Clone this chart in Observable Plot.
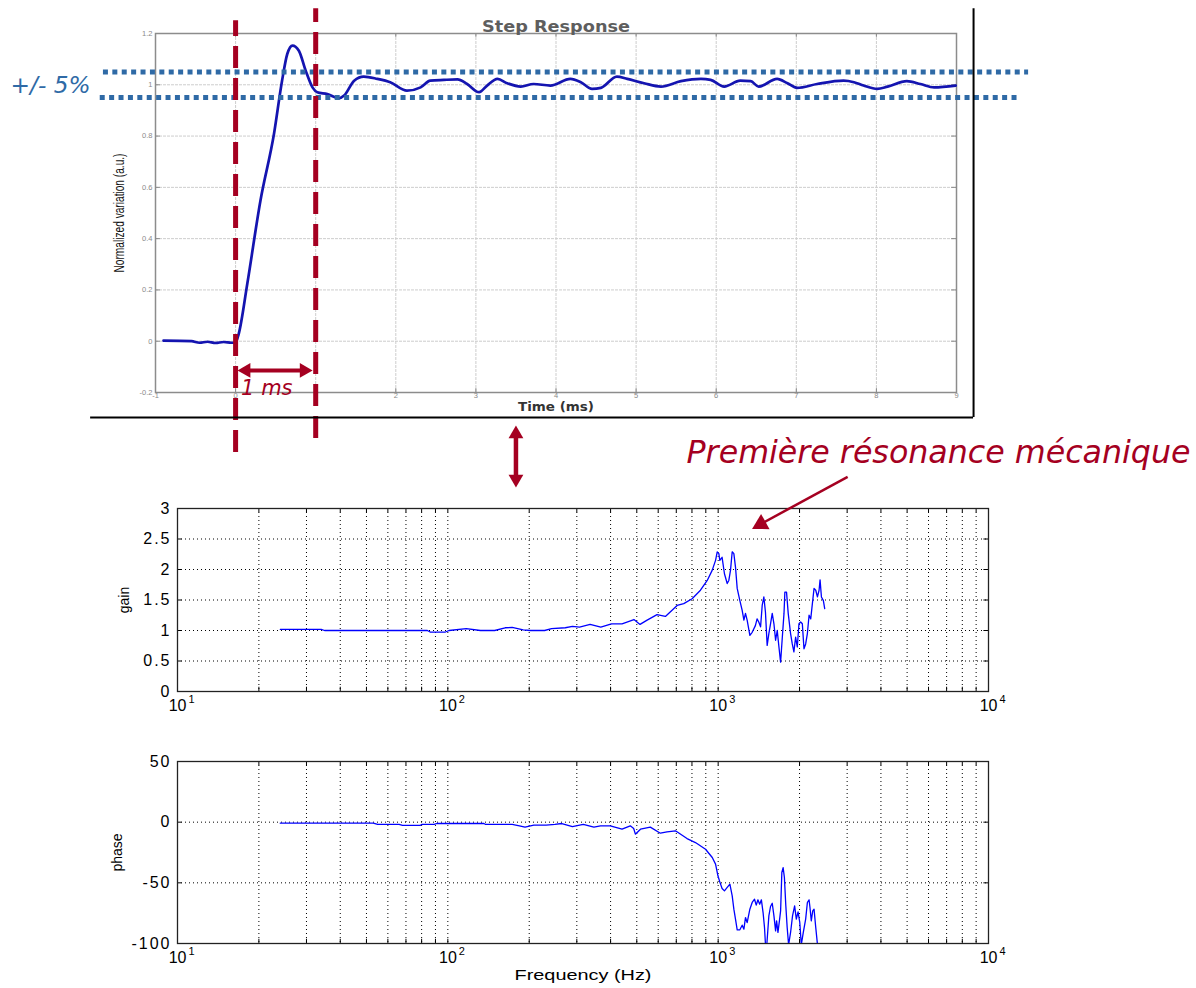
<!DOCTYPE html>
<html>
<head>
<meta charset="utf-8">
<script src="https://cdn.jsdelivr.net/npm/d3@7"></script>
<script src="https://cdn.jsdelivr.net/npm/@observablehq/plot@0.6"></script>
<style>
html, body { margin: 0; padding: 0; background: #fff; }
#page { position: relative; width: 1196px; height: 988px; overflow: hidden; background: #fff; }
#page > div { position: absolute; left: 0; width: 1196px; }
#step { top: 0; z-index: 3; }
#gain { top: 420px; z-index: 2; }
#phase { top: 730px; z-index: 1; }
</style>
</head>
<body>
<div id="page">
  <div id="step"></div>
  <div id="gain"></div>
  <div id="phase"></div>
</div>
<script>
// ---------------- Data ----------------
// Step response (time in ms, normalized variation)
const stepTime = [-0.9, -0.55, -0.45, -0.35, -0.25, -0.15, -0.05, 0.0, 0.04, 0.146,
  0.31, 0.48, 0.58, 0.645, 0.71, 0.79, 0.875, 0.96, 1.02, 1.145,
  1.29, 1.355, 1.48, 1.60, 1.77, 1.93, 2.14, 2.31, 2.43, 2.6,
  2.77, 2.89, 3.04, 3.14, 3.27, 3.39, 3.56, 3.72, 3.93, 4.18,
  4.31, 4.45, 4.56, 4.76, 4.89, 5.10, 5.31, 5.56, 5.81, 5.93,
  6.10, 6.30, 6.43, 6.53, 6.76, 6.89, 7.01, 7.26, 7.59, 7.72,
  7.84, 8.01, 8.14, 8.38, 8.55, 8.72, 8.99];
const stepValue = [0.002, 0.0, -0.006, -0.002, -0.007, -0.003, -0.006, -0.005, 0.03, 0.224,
  0.548, 0.81, 1.016, 1.12, 1.153, 1.133, 1.055, 0.99, 0.971, 0.964,
  0.947, 0.958, 1.016, 1.032, 1.023, 1.01, 0.977, 0.99, 1.016, 1.019,
  1.021, 1.003, 0.971, 0.997, 1.023, 1.006, 0.993, 1.003, 0.997, 1.023,
  1.010, 0.984, 0.988, 1.032, 1.023, 1.006, 0.993, 1.014, 1.023, 1.019,
  0.993, 1.016, 1.014, 0.993, 1.023, 1.006, 0.988, 1.003, 1.016, 1.010,
  0.997, 0.984, 0.993, 1.014, 1.003, 0.990, 0.997];
const stepXTicks = [-1, 0, 1, 2, 3, 4, 5, 6, 7, 8, 9];
const stepYTicks = [-0.2, 0, 0.2, 0.4, 0.6, 0.8, 1, 1.2];

// Frequency response: gain
const gainFreq = [24, 34, 35, 84, 86, 98, 101, 117, 132, 149,
  163, 173, 190, 202, 228, 242, 272, 289, 307, 336,
  368, 403, 441, 488, 514, 546, 594, 638, 705, 746,
  801, 860, 911, 951, 978, 992, 1006, 1014, 1034, 1055,
  1080, 1095, 1111, 1127, 1143, 1159, 1176, 1203, 1227, 1245,
  1262, 1280, 1310, 1336, 1373, 1393, 1413, 1435, 1455, 1476,
  1496, 1518, 1540, 1562, 1585, 1608, 1631, 1654, 1678, 1702,
  1727, 1752, 1765, 1790, 1816, 1853, 1880, 1906, 1934, 1962,
  1990, 2019, 2048, 2077, 2107, 2138, 2169, 2200, 2231, 2263,
  2296, 2329, 2362, 2382, 2410, 2450, 2478];
const gainValue = [1.02, 1.02, 1.0, 1.0, 0.975, 0.975, 1.0, 1.03, 1.0, 1.0,
  1.045, 1.05, 1.01, 1.0, 1.0, 1.03, 1.045, 1.067, 1.056, 1.10,
  1.056, 1.11, 1.11, 1.18, 1.10, 1.17, 1.26, 1.23, 1.41, 1.44,
  1.52, 1.66, 1.82, 1.99, 2.15, 2.29, 2.26, 2.15, 2.2, 1.93,
  1.77, 1.82, 1.99, 2.29, 2.26, 2.04, 1.69, 1.49, 1.33, 1.17,
  1.28, 1.17, 0.92, 0.97, 1.08, 1.19, 1.14, 1.06, 1.41, 1.55,
  1.30, 0.755, 0.95, 1.11, 1.28, 1.11, 0.84, 1.0, 0.73, 0.48,
  0.89, 1.28, 1.63, 1.63, 1.28, 0.95, 0.78, 0.65, 0.89, 0.73,
  1.11, 1.14, 1.11, 0.70, 0.78, 0.95, 1.25, 1.19, 1.44, 1.69,
  1.66, 1.55, 1.66, 1.83, 1.55, 1.49, 1.36];

// Frequency response: phase
const phaseFreq = [24, 53, 55, 66, 68, 79, 80, 89, 91, 136,
  138, 173, 184, 193, 208, 231, 249, 264, 289, 317,
  347, 367, 399, 441, 473, 487, 494, 516, 561, 611,
  647, 695, 767, 824, 898, 951, 978, 998, 1014, 1034,
  1055, 1080, 1105, 1127, 1143, 1159, 1176, 1203, 1227, 1245,
  1262, 1280, 1310, 1336, 1363, 1383, 1403, 1424, 1445, 1466,
  1484, 1496, 1510, 1540, 1562, 1585, 1608, 1631, 1645, 1664,
  1688, 1702, 1720, 1739, 1758, 1778, 1800, 1822, 1853, 1884,
  1918, 1946, 1975, 2004, 2030, 2065, 2107, 2138, 2169, 2186,
  2210, 2238, 2263, 2296, 2329, 2340];
const phaseValue = [-0.8, -0.8, -1.9, -1.9, -2.7, -2.7, -1.9, -1.9, -1.1, -1.1,
  -1.9, -1.9, -3.0, -4.1, -2.5, -2.5, -1.9, -1.1, -3.6, -1.9,
  -4.1, -3.0, -3.0, -5.8, -3.0, -5.2, -9.9, -5.8, -4.1, -9.1,
  -8.0, -7.1, -13.5, -16.8, -22.3, -29.1, -34.6, -44.2, -49.2, -54.7,
  -56.6, -53.8, -51.1, -60.7, -71.7, -79.9, -88.7, -88.7, -84.9, -88.2,
  -78.6, -82.7, -71.7, -66.2, -63.5, -68.4, -64.0, -67.6, -64.0, -74.5,
  -86.8, -100.5, -104, -77.2, -69.5, -66.8, -77.2, -89.6, -81.3, -90.9,
  -79.9, -73.1, -41.5, -37.4, -45.6, -67.6, -86.8, -101, -90.9, -77.2,
  -69, -79.9, -73.9, -82.7, -101, -90.9, -79.9, -66.2, -64, -70.3,
  -81.3, -73.1, -71.7, -86.8, -100.5, -104];

const decadeTicks = [10, 100, 1000, 10000];
const decadeExponents = ["1", "2", "3", "4"];
const gainYTicks = [0, 0.5, 1, 1.5, 2, 2.5, 3];
const phaseYTicks = [-100, -50, 0, 50];

// Texts
const stepTitle = "Step Response";
const stepXLabel = "Time (ms)";
const stepYLabel = "Normalized variation (a.u.)";
const bandLabel = "+/- 5%";
const durationLabel = "1 ms";
const resonanceLabel = "Première résonance mécanique";
const gainLabel = "gain";
const phaseLabel = "phase";
const freqLabel = "Frequency (Hz)";

// Annotation anchors (data coordinates of each chart)
const settleBand = [{v: 1.05, from: -1.65, to: 9.9}, {v: 0.95, from: -1.69, to: 9.8}];
const timeMarkers = [{t: 0, lo: -0.434, hi: 1.25}, {t: 1, lo: -0.379, hi: 1.297}];

// ---------------- Styles ----------------
const RED = "#a50021";
const BAND_BLUE = "#2f6aa6";
const STEP_BLUE = "#1414b0";
const TRACE_BLUE = "#0000ff";
const SANS = "'Liberation Sans', Arial, sans-serif";
const VERD = "'DejaVu Sans', Verdana, sans-serif";

const stepData = stepTime.map((t, i) => ({t, v: stepValue[i]}));
const gainData = gainFreq.map((f, i) => ({f, g: gainValue[i]}));
const phaseData = phaseFreq.map((f, i) => ({f, p: phaseValue[i]}));
const gridFreq = decadeTicks.slice(0, -1).flatMap(d => [1, 2, 3, 4, 5, 6, 7, 8, 9].map(m => m * d)).filter(f => f > 10);

// ---------------- Step response ----------------
const stepPlot = Plot.plot({
  width: 1196, height: 500,
  marginLeft: 155, marginRight: 240, marginTop: 33, marginBottom: 108,
  style: {background: "transparent", overflow: "visible", fontFamily: SANS},
  x: {domain: [-1, 9]},
  y: {domain: [-0.2, 1.2]},
  marks: [
    Plot.gridX(stepXTicks, {stroke: "#cdcdcd", strokeOpacity: 1, strokeDasharray: "3,1"}),
    Plot.gridY(stepYTicks, {stroke: "#cdcdcd", strokeOpacity: 1, strokeDasharray: "3,1"}),
    Plot.ruleX(stepXTicks, {y1: -0.2, y2: -0.185, stroke: "#888"}),
    Plot.ruleX(stepXTicks, {y1: 1.2, y2: 1.185, stroke: "#888"}),
    Plot.ruleY(stepYTicks, {x1: -1, x2: -0.94, stroke: "#888"}),
    Plot.ruleY(stepYTicks, {x1: 9, x2: 8.94, stroke: "#888"}),
    Plot.frame({stroke: "#8c8c8c", strokeWidth: 1.5}),
    Plot.axisX(stepXTicks, {tickSize: 0, tickPadding: 0, tickFormat: d => String(d), fontSize: 7.5, color: "#8a8a8a", label: null}),
    Plot.axisY(stepYTicks, {tickSize: 0, tickPadding: 3, tickFormat: d => String(d), fontSize: 7.5, color: "#8a8a8a", label: null}),
    Plot.text([stepTitle], {text: d => d, frameAnchor: "top", dy: -13, fontSize: 16, fontWeight: "bold", fontFamily: VERD, fill: "#5e5e5e"}),
    Plot.text([stepXLabel], {text: d => d, frameAnchor: "bottom", dy: 18.5, fontSize: 12.5, fontWeight: "bold", fontFamily: VERD, fill: "#333"}),
    Plot.text([stepYLabel], {text: d => d, frameAnchor: "left", textAnchor: "middle", dx: -36, rotate: -90, fontSize: 14.5, fontFamily: SANS, fill: "#111"}),
    Plot.line(stepData, {x: "t", y: "v", stroke: STEP_BLUE, strokeWidth: 2.7, curve: "monotone-x"}),
    // +/- 5% band
    Plot.ruleY(settleBand, {y: "v", x1: "from", x2: "to", stroke: BAND_BLUE, strokeWidth: 5, strokeDasharray: "5,4.4"}),
    Plot.text([{x: -2.31, y: 0.997, s: bandLabel}], {x: "x", y: "y", text: "s", fontSize: 22.5, fontStyle: "italic", fontFamily: VERD, fill: BAND_BLUE}),
    // time markers
    Plot.ruleX(timeMarkers, {x: "t", y1: "lo", y2: "hi", stroke: RED, strokeWidth: 5, strokeDasharray: "22,10"}),
    // 1 ms double arrow
    Plot.link([{a: 0.131, b: 0.855, y: -0.114}], {x1: "a", x2: "b", y1: "y", y2: "y", stroke: RED, strokeWidth: 4}),
    Plot.dot([{x: 0.131, y: -0.114, r: -90}, {x: 0.855, y: -0.114, r: 90}], {x: "x", y: "y", rotate: "r", symbol: "triangle", r: 5.5, fill: RED, stroke: "none"}),
    Plot.text([{x: 0.39, y: -0.184, s: durationLabel}], {x: "x", y: "y", text: "s", fontSize: 21, fontStyle: "italic", fontFamily: VERD, fill: RED}),
    // vertical double arrow linking the two views
    Plot.link([{x: 3.5, a: -0.362, b: -0.537}], {x1: "x", x2: "x", y1: "a", y2: "b", stroke: RED, strokeWidth: 4.5}),
    Plot.dot([{x: 3.5, y: -0.362, r: 0}, {x: 3.5, y: -0.537, r: 180}], {x: "x", y: "y", rotate: "r", symbol: "triangle", r: 5.5, fill: RED, stroke: "none"}),
    // image border
    Plot.ruleX([9.213], {y1: -0.2975, y2: 1.297, stroke: "#000", strokeWidth: 2}),
    Plot.ruleY([-0.2975], {x1: -1.81, x2: 9.213, stroke: "#000", strokeWidth: 2})
  ]
});
document.getElementById("step").appendChild(stepPlot);

// ---------------- Gain ----------------
const inX = 1.04; // multiplicative inward tick length on log axis
const gainPlot = Plot.plot({
  width: 1196, height: 300,
  marginLeft: 177, marginRight: 208, marginTop: 88, marginBottom: 29,
  style: {background: "transparent", overflow: "visible", fontFamily: SANS, color: "#000"},
  x: {type: "log", domain: [10, 10000], axis: null},
  y: {domain: [0, 3]},
  marks: [
    Plot.gridX(gridFreq, {stroke: "#000", strokeOpacity: 1, strokeDasharray: "1,3"}),
    Plot.gridY([0.5, 1, 1.5, 2, 2.5], {stroke: "#000", strokeOpacity: 1, strokeDasharray: "1,3"}),
    Plot.ruleX(gridFreq, {y1: 0, y2: 0.07, stroke: "#000"}),
    Plot.ruleX(gridFreq, {y1: 3, y2: 2.93, stroke: "#000"}),
    Plot.ruleY(gainYTicks, {x1: 10, x2: 10 * inX, stroke: "#000"}),
    Plot.ruleY(gainYTicks, {x1: 10000, x2: 10000 / inX, stroke: "#000"}),
    Plot.frame({stroke: "#222", strokeWidth: 1.3}),
    Plot.axisY(gainYTicks, {tickSize: 0, tickPadding: 6, tickFormat: d => String(d), fontSize: 16, label: null}),
    Plot.text(decadeTicks, {x: d => d, text: () => "10", frameAnchor: "bottom", dy: 19, dx: 9, textAnchor: "end", fontSize: 16}),
    Plot.text(decadeTicks, {x: d => d, text: (d, i) => decadeExponents[i], frameAnchor: "bottom", dy: 11, dx: 11, textAnchor: "start", fontSize: 11}),
    Plot.text([gainLabel], {text: d => d, frameAnchor: "left", textAnchor: "middle", dx: -53, rotate: -90, fontSize: 14}),
    Plot.line(gainData, {x: "f", y: "g", stroke: TRACE_BLUE, strokeWidth: 1.3, clip: true}),
    // annotation: first mechanical resonance
    Plot.text([{f: 6533, g: 3.918, s: resonanceLabel}], {x: "f", y: "g", text: "s", fontSize: 31.5, fontStyle: "italic", fontFamily: VERD, fill: RED}),
    Plot.link([{f1: 3013, g1: 3.52, f2: 1439, g2: 2.746}], {x1: "f1", y1: "g1", x2: "f2", y2: "g2", stroke: RED, strokeWidth: 2.5}),
    Plot.dot([{f: 1439, g: 2.746}], {x: "f", y: "g", symbol: "triangle", r: 6.5, rotate: 241, fill: RED, stroke: "none"})
  ]
});
document.getElementById("gain").appendChild(gainPlot);

// ---------------- Phase ----------------
const phasePlot = Plot.plot({
  width: 1196, height: 258,
  marginLeft: 177, marginRight: 208, marginTop: 31, marginBottom: 45,
  style: {background: "transparent", overflow: "visible", fontFamily: SANS, color: "#000"},
  x: {type: "log", domain: [10, 10000], axis: null},
  y: {domain: [-100, 50]},
  marks: [
    Plot.gridX(gridFreq, {stroke: "#000", strokeOpacity: 1, strokeDasharray: "1,3"}),
    Plot.gridY([-50, 0], {stroke: "#000", strokeOpacity: 1, strokeDasharray: "1,3"}),
    Plot.ruleX(gridFreq, {y1: -100, y2: -96.5, stroke: "#000"}),
    Plot.ruleX(gridFreq, {y1: 50, y2: 46.5, stroke: "#000"}),
    Plot.ruleY(phaseYTicks, {x1: 10, x2: 10 * inX, stroke: "#000"}),
    Plot.ruleY(phaseYTicks, {x1: 10000, x2: 10000 / inX, stroke: "#000"}),
    Plot.frame({stroke: "#222", strokeWidth: 1.3}),
    Plot.axisY(phaseYTicks, {tickSize: 0, tickPadding: 6, tickFormat: d => String(d), fontSize: 16, label: null}),
    Plot.text(decadeTicks, {x: d => d, text: () => "10", frameAnchor: "bottom", dy: 19, dx: 9, textAnchor: "end", fontSize: 16}),
    Plot.text(decadeTicks, {x: d => d, text: (d, i) => decadeExponents[i], frameAnchor: "bottom", dy: 11, dx: 11, textAnchor: "start", fontSize: 11}),
    Plot.text([freqLabel], {text: d => d, frameAnchor: "bottom", dy: 36, fontSize: 15.5}),
    Plot.text([phaseLabel], {text: d => d, frameAnchor: "left", textAnchor: "middle", dx: -60, rotate: -90, fontSize: 14}),
    Plot.line(phaseData, {x: "f", y: "p", stroke: TRACE_BLUE, strokeWidth: 1.3, clip: true})
  ]
});
document.getElementById("phase").appendChild(phasePlot);

// Stretch / condense labels to the widths seen in the scanned figure
function fitText(svg, content, length) {
  d3.select(svg).selectAll("text")
    .filter(function () { return this.textContent === content; })
    .attr("textLength", length)
    .attr("lengthAdjust", "spacingAndGlyphs");
}
fitText(stepPlot, stepYLabel, 119);
fitText(stepPlot, stepTitle, 148);
fitText(stepPlot, stepXLabel, 76);
fitText(stepPlot, bandLabel, 80);
fitText(gainPlot, resonanceLabel, 504);
fitText(phasePlot, freqLabel, 137);
for (const svg of [gainPlot, phasePlot]) {
  d3.select(svg).selectAll('g[aria-label="y-axis tick label"] text').style("letter-spacing", "2px");
}
</script>
</body>
</html>
